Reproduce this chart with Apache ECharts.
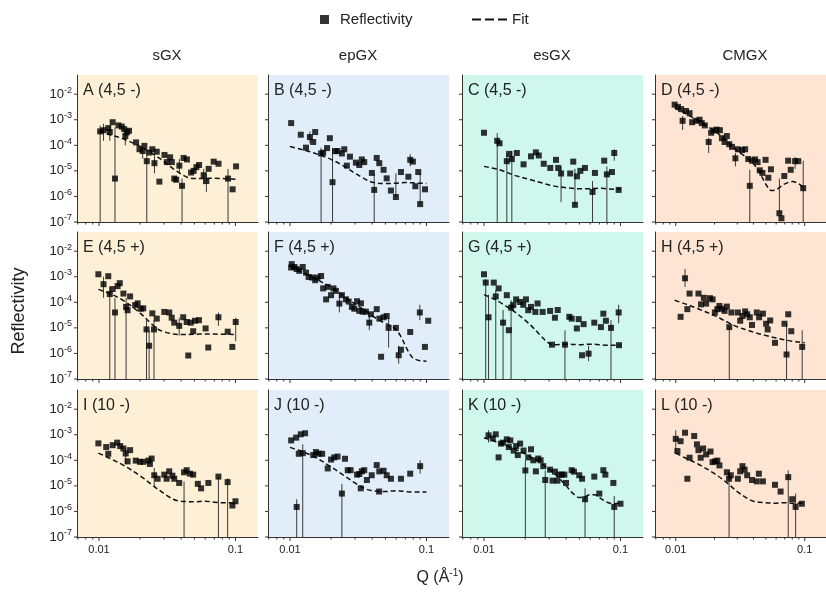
<!DOCTYPE html>
<html>
<head>
<meta charset="utf-8">
<script src="https://cdn.jsdelivr.net/npm/echarts@6/dist/echarts.min.js"></script>
<style>
html,body{margin:0;padding:0;background:#ffffff;}
#chart{width:826px;height:593px;}
</style>
</head>
<body>
<div id="chart"></div>
<script>
// ---- Reflectivity curves: [Q (1/Å), R] ----
const columnTitles = ['sGX', 'epGX', 'esGX', 'CMGX'];
const panelLabels = ['A (4,5 -)', 'B (4,5 -)', 'C (4,5 -)', 'D (4,5 -)',
                     'E (4,5 +)', 'F (4,5 +)', 'G (4,5 +)', 'H (4,5 +)',
                     'I (10 -)', 'J (10 -)', 'K (10 -)', 'L (10 -)'];
const xTickLabels = ['0.01', '0.1'];

const refA = [[0.0102,3.5e-4],[0.0108,3.9e-4],[0.0117,4.7e-4],[0.0120,3.3e-4],[0.0126,8e-4],[0.0131,5e-6],[0.0139,6e-4],[0.0147,5.4e-4],[0.0153,4.3e-4],[0.0156,2.3e-4],[0.0160,3.2e-4],[0.0166,3.7e-4],[0.0187,1.3e-4],[0.0198,7e-5],[0.0209,6e-5],[0.0215,9.5e-5],[0.0224,2.4e-5],[0.0234,5.2e-5],[0.0246,7e-5],[0.0255,2e-5],[0.0265,5.6e-5],[0.0277,3.8e-6],[0.0302,4.2e-5],[0.0314,2.2e-5],[0.0332,3.4e-5],[0.0342,2.2e-5],[0.0356,5e-6],[0.0368,4.5e-6],[0.0388,1.6e-5],[0.0406,2.6e-6],[0.0417,3.2e-5],[0.0441,2.8e-5],[0.0473,8.6e-6],[0.0494,1e-5],[0.0517,1.4e-5],[0.0541,1.7e-5],[0.0585,6.8e-6],[0.0612,4e-6],[0.0636,1.2e-5],[0.0692,2.3e-5],[0.0751,1.9e-5],[0.0882,5e-6],[0.0953,1.9e-6],[0.101,1.5e-5]];
const errA = [[0.0102,0,6e-4],[0.0131,0,5e-4],[0.0224,0,6e-5],[0.0406,0,5e-6],[0.0882,0,1.2e-5],[0.0108,1.5e-4,7e-4],[0.0120,1.5e-4,6e-4],[0.0156,1e-4,3.5e-4],[0.0209,3e-5,9e-5],[0.0255,8e-6,4e-5],[0.0388,8e-6,3e-5],[0.0585,3e-6,1.2e-5],[0.0612,1.5e-6,8e-6]];
const fitA = [[0.0100,3.5e-4],[0.012,2.6e-4],[0.015,1.8e-4],[0.02,9e-5],[0.025,4.5e-5],[0.03,2.3e-5],[0.035,1.2e-5],[0.04,7.5e-6],[0.045,5.5e-6],[0.05,5e-6],[0.06,5e-6],[0.07,5.2e-6],[0.08,5e-6],[0.09,4.8e-6],[0.1,4.7e-6]];

const refB = [[0.0102,7.4e-4],[0.0120,2.6e-4],[0.0131,8.1e-5],[0.0140,2.1e-4],[0.0148,1.35e-4],[0.0153,3.3e-4],[0.0169,4.8e-5],[0.0175,5.1e-5],[0.0187,7.8e-5],[0.0196,1.9e-4],[0.0205,3.6e-6],[0.0214,5.9e-5],[0.0223,6e-5],[0.0240,4.8e-5],[0.0250,7e-5],[0.0261,1.6e-5],[0.0275,3.6e-5],[0.0304,2.1e-5],[0.0322,1.7e-5],[0.0336,2.8e-5],[0.0350,2.2e-5],[0.0398,8.3e-6],[0.0414,1.8e-6],[0.0432,3.2e-5],[0.0451,2e-5],[0.0485,1.1e-5],[0.0511,5.1e-6],[0.0549,1.7e-6],[0.0597,9.5e-7],[0.0650,9e-6],[0.0737,5.9e-6],[0.0760,2.7e-5],[0.0795,2.3e-5],[0.0829,2.5e-6],[0.0870,9e-6],[0.0899,5e-7],[0.0975,1.9e-6]];
const errB = [[0.0169,0,8e-5],[0.0205,0,8e-5],[0.0414,0,8e-6],[0.0597,9.5e-7,8e-6],[0.0899,5e-7,8e-6],[0.0140,1.2e-4,3.5e-4],[0.0760,1.5e-5,4.5e-5]];
const fitB = [[0.0100,9e-5],[0.012,7e-5],[0.015,5e-5],[0.02,2.8e-5],[0.025,1.5e-5],[0.03,8e-6],[0.035,5e-6],[0.04,3.6e-6],[0.05,3.2e-6],[0.06,3.3e-6],[0.07,3.5e-6],[0.08,3.4e-6],[0.09,3.3e-6],[0.1,3.2e-6]];

const refC = [[0.0100,3.1e-4],[0.0125,1.5e-4],[0.0130,1.2e-4],[0.0147,2.4e-5],[0.0153,4.6e-5],[0.0160,2.9e-5],[0.0174,5e-5],[0.0195,1.8e-5],[0.0221,3.7e-5],[0.0240,5.3e-5],[0.0252,4e-5],[0.0274,1.9e-5],[0.0306,1.3e-5],[0.0337,2.7e-5],[0.0350,1.3e-5],[0.0367,7.9e-6],[0.0428,7.9e-6],[0.0451,2.3e-5],[0.0464,4.7e-7],[0.0480,6.1e-6],[0.0508,1e-5],[0.0549,1.3e-5],[0.0624,1.5e-6],[0.0650,8.3e-6],[0.0760,2.5e-5],[0.0795,7.3e-6],[0.0866,9e-6],[0.0900,5e-5],[0.0970,1.8e-6]];
const errC = [[0.0125,0,3e-4],[0.0147,0,5e-5],[0.0160,0,6e-5],[0.0367,6e-7,1.5e-5],[0.0464,4.7e-7,1.2e-5],[0.0624,0,4e-6],[0.0795,0,1.5e-5],[0.0900,2.5e-5,7e-5]];
const fitC = [[0.0100,1.5e-5],[0.013,1.1e-5],[0.017,6.5e-6],[0.022,4.5e-6],[0.027,3.3e-6],[0.032,2.6e-6],[0.04,2.2e-6],[0.05,2e-6],[0.06,2e-6],[0.07,2.1e-6],[0.08,2e-6],[0.09,1.9e-6],[0.1,1.9e-6]];

const refD = [[0.0098,3.9e-3],[0.0104,3.2e-3],[0.0110,2.6e-3],[0.0113,9.1e-4],[0.0120,2.2e-3],[0.0128,1.8e-3],[0.0134,8e-4],[0.0144,9.1e-4],[0.0153,1e-3],[0.0159,7.4e-4],[0.0168,6e-4],[0.0180,1.35e-4],[0.0188,3.1e-4],[0.0196,3.8e-4],[0.0207,4.1e-4],[0.0220,3.9e-4],[0.0228,1.9e-4],[0.0239,1.35e-4],[0.0249,2.3e-4],[0.0260,1.1e-4],[0.0273,8.7e-5],[0.0290,3.1e-5],[0.0303,7e-5],[0.0326,6.5e-5],[0.0345,7e-5],[0.0365,2.9e-5],[0.0375,2.6e-6],[0.0390,2.5e-5],[0.0412,2.8e-5],[0.0431,2.2e-5],[0.0448,1.05e-5],[0.0470,8.3e-6],[0.0497,2.7e-5],[0.0522,5.4e-6],[0.0547,1.15e-5],[0.0636,2.2e-7],[0.0660,1.4e-7],[0.0694,6.3e-6],[0.0744,2.5e-5],[0.0779,1.1e-5],[0.0842,2.4e-5],[0.0891,2.4e-5],[0.0973,2.1e-6]];
const errD = [[0.0113,4e-4,1.4e-3],[0.0180,5e-5,2e-4],[0.0290,1.5e-5,5e-5],[0.0375,0,1.1e-5],[0.0636,2.2e-7,5e-6],[0.0973,0,2.5e-5],[0.0842,1.2e-5,3.5e-5]];
const fitD = [[0.0098,2.9e-3],[0.012,1.7e-3],[0.015,9e-4],[0.02,3.6e-4],[0.025,1.5e-4],[0.03,6e-5],[0.035,3.5e-5],[0.04,1.9e-5],[0.045,8e-6],[0.05,3e-6],[0.055,1.7e-6],[0.06,1.8e-6],[0.065,2.4e-6],[0.07,3.1e-6],[0.08,3.8e-6],[0.09,3.1e-6],[0.1,2e-6]];

const refE = [[0.0099,1.25e-3],[0.0108,5.1e-4],[0.0117,1.05e-3],[0.0120,2.1e-4],[0.0126,3.3e-4],[0.0131,4e-5],[0.0137,4.3e-4],[0.0142,5.6e-4],[0.0151,2.2e-4],[0.0158,6.6e-5],[0.0162,4.9e-5],[0.0169,1.7e-4],[0.0184,7.8e-5],[0.0192,9.1e-5],[0.0202,5.6e-5],[0.0211,5.8e-5],[0.0223,8.7e-6],[0.0233,2e-6],[0.0246,3.7e-5],[0.0253,8.7e-6],[0.0265,2.3e-5],[0.0301,4.2e-5],[0.0327,4e-5],[0.0341,2.5e-5],[0.0356,1.6e-5],[0.0387,1.2e-5],[0.0414,2.6e-5],[0.0439,1.7e-5],[0.0451,8.3e-7],[0.0470,1.6e-5],[0.0490,7.4e-6],[0.0505,1.9e-5],[0.0540,2e-5],[0.0604,9.5e-6],[0.0632,1.7e-6],[0.0750,2.6e-5],[0.0877,7.1e-6],[0.0948,1.8e-6],[0.1004,1.7e-5]];
const errE = [[0.0120,0,4e-4],[0.0131,0,1.5e-4],[0.0158,0,1.5e-4],[0.0223,0,2e-5],[0.0233,0,8e-6],[0.0253,0,2e-5],[0.0108,1.5e-4,1e-3],[0.0387,5e-6,2.5e-5],[0.0750,1.2e-5,4e-5],[0.1004,3e-6,2.5e-5]];
const fitE = [[0.0099,3.2e-4],[0.012,2.2e-4],[0.015,1.2e-4],[0.018,6e-5],[0.021,3e-5],[0.024,1.5e-5],[0.027,9e-6],[0.03,7e-6],[0.035,5.8e-6],[0.04,5.5e-6],[0.05,5.6e-6],[0.06,5.8e-6],[0.07,5.7e-6],[0.08,5.6e-6],[0.09,5.6e-6],[0.1,5.5e-6]];

const refF = [[0.0102,2.3e-3],[0.0103,3.1e-3],[0.0108,2.4e-3],[0.0112,2e-3],[0.0117,1.7e-3],[0.0124,2.4e-3],[0.0131,1.45e-3],[0.0137,9.8e-4],[0.0145,9.3e-4],[0.0153,7.3e-4],[0.0159,9.3e-4],[0.0169,1.07e-3],[0.0175,3.5e-4],[0.0184,1.3e-4],[0.0189,4e-4],[0.0200,1.9e-4],[0.0208,3.5e-4],[0.0217,2.8e-4],[0.0230,8.9e-5],[0.0240,1.9e-4],[0.0257,1.3e-4],[0.0269,1.07e-4],[0.0284,6.6e-5],[0.0296,5.6e-5],[0.0310,1.1e-4],[0.0322,4.6e-5],[0.0331,9.1e-5],[0.0341,4.3e-5],[0.0360,4.3e-5],[0.0381,1.6e-5],[0.0392,3.4e-5],[0.0432,5.4e-5],[0.0452,2.3e-5],[0.0465,7.4e-7],[0.0485,2.6e-5],[0.0511,2.9e-5],[0.0528,1e-5],[0.0597,1e-5],[0.0626,8.5e-7],[0.0650,1.4e-6],[0.0760,6.9e-6],[0.0894,4e-5],[0.0974,1.8e-6],[0.103,1.9e-5]];
const errF = [[0.0230,4e-5,2e-4],[0.0528,1.7e-6,2.5e-5],[0.0894,2e-5,8e-5],[0.0626,4e-7,2e-6],[0.0381,8e-6,3e-5]];
const fitF = [[0.0100,2.6e-3],[0.012,1.6e-3],[0.015,9e-4],[0.02,3.8e-4],[0.025,1.7e-4],[0.03,8.5e-5],[0.035,5e-5],[0.04,3e-5],[0.045,2e-5],[0.05,1.5e-5],[0.055,1.2e-5],[0.06,8.5e-6],[0.065,4.5e-6],[0.07,2e-6],[0.075,1e-6],[0.08,6.5e-7],[0.09,5.2e-7],[0.1,5e-7]];

const refG = [[0.0100,1.25e-3],[0.0103,5.9e-4],[0.0108,2.6e-5],[0.0118,5.9e-4],[0.0122,1.7e-4],[0.0128,3.5e-4],[0.0138,1.6e-5],[0.0147,1.9e-4],[0.0152,8.1e-6],[0.0158,6.2e-5],[0.0164,7.8e-5],[0.0172,1.3e-4],[0.0184,1.03e-4],[0.0194,8e-5],[0.0203,1.3e-4],[0.0211,4.9e-5],[0.0221,6.6e-5],[0.0238,4.2e-5],[0.0247,9e-5],[0.0269,4.2e-5],[0.0305,4.6e-5],[0.0315,2.2e-6],[0.0331,2.5e-5],[0.0347,5e-5],[0.0392,2.2e-6],[0.0422,2.7e-5],[0.0439,2.3e-5],[0.0479,9.5e-6],[0.0494,2.2e-5],[0.0523,8.5e-7],[0.0537,1.4e-5],[0.0584,9.8e-7],[0.0643,1.6e-5],[0.0719,1.07e-5],[0.0749,3.6e-5],[0.0782,1.9e-5],[0.0852,1e-5],[0.0970,4e-5],[0.0975,2.1e-6]];
const errG = [[0.0103,0,8e-4],[0.0108,0,2e-4],[0.0122,0,3e-4],[0.0138,0,5e-5],[0.0158,0,1.2e-4],[0.0392,0,8e-6],[0.0584,5e-7,2e-6],[0.0852,0,2e-5],[0.0970,1.5e-5,8e-5]];
const fitG = [[0.0100,2e-4],[0.012,1.3e-4],[0.014,8e-5],[0.017,4e-5],[0.02,2e-5],[0.023,1e-5],[0.026,5e-6],[0.029,2.8e-6],[0.032,2.2e-6],[0.04,2.3e-6],[0.05,2.2e-6],[0.06,2.3e-6],[0.07,2.2e-6],[0.08,2.1e-6],[0.09,2.1e-6],[0.1,2.1e-6]];

const refH = [[0.0109,2.7e-5],[0.0118,8.7e-4],[0.0123,5.4e-5],[0.0128,2.2e-4],[0.0150,2.2e-4],[0.0157,8.3e-5],[0.0165,1.5e-4],[0.0172,8.9e-5],[0.0184,1.45e-4],[0.0193,1.3e-4],[0.0201,4e-5],[0.0210,5.4e-5],[0.0218,7.2e-5],[0.0228,5.6e-5],[0.0239,4.6e-5],[0.0249,6.8e-5],[0.0260,1.07e-5],[0.0270,4e-5],[0.0303,4e-5],[0.0316,1.9e-5],[0.0329,2.9e-5],[0.0345,4.4e-5],[0.0358,3.4e-5],[0.0375,2.6e-5],[0.0390,1.3e-5],[0.0425,4e-5],[0.0443,2.6e-5],[0.0474,3.6e-5],[0.0502,1.45e-5],[0.0516,8.7e-6],[0.0540,1.95e-5],[0.0588,2.6e-6],[0.0697,1.45e-5],[0.0723,9.1e-7],[0.0745,3.4e-5],[0.0786,7.4e-6],[0.0956,1.8e-6]];
const errH = [[0.0118,4e-4,2e-3],[0.0260,0,1.2e-5],[0.0723,0,1.5e-5],[0.0956,0,8e-6]];
const fitH = [[0.0098,1.2e-4],[0.012,8.5e-5],[0.015,5.5e-5],[0.02,3e-5],[0.025,1.7e-5],[0.03,1.1e-5],[0.035,8.5e-6],[0.04,6.8e-6],[0.05,5e-6],[0.06,4e-6],[0.07,3.4e-6],[0.08,3e-6],[0.09,2.8e-6],[0.1,2.6e-6]];

const refI = [[0.0099,4.6e-4],[0.0113,3.3e-4],[0.0117,1.8e-4],[0.0126,3.9e-4],[0.0136,4.9e-4],[0.0143,3.6e-4],[0.0151,2.9e-4],[0.0157,1.85e-4],[0.0162,9.1e-5],[0.0169,2.5e-4],[0.0186,9.7e-5],[0.0200,8.7e-5],[0.0211,8.7e-5],[0.0230,9.7e-5],[0.0236,7.2e-5],[0.0243,1.17e-4],[0.0254,2.6e-5],[0.0269,1.9e-5],[0.0301,2.75e-5],[0.0313,1.9e-5],[0.0327,3.7e-5],[0.0345,2.5e-5],[0.0356,1.9e-5],[0.0387,1.3e-5],[0.0420,3.4e-5],[0.0439,4.1e-5],[0.0464,3e-5],[0.0490,2.75e-5],[0.0530,1.2e-5],[0.0560,8e-6],[0.0633,1.3e-5],[0.0750,2.3e-5],[0.0876,1.4e-5],[0.0950,1.7e-6],[0.1000,2.5e-6]];
const errI = [[0.0157,7e-5,3e-4],[0.0254,1e-5,5e-5],[0.0420,0,1.5e-5],[0.0750,0,2.3e-5],[0.0876,0,2e-5]];
const fitI = [[0.0099,1.9e-4],[0.012,1.2e-4],[0.015,6.5e-5],[0.02,2.5e-5],[0.025,1e-5],[0.03,5e-6],[0.035,3e-6],[0.04,2.5e-6],[0.05,2.4e-6],[0.06,2.5e-6],[0.07,2.3e-6],[0.08,2.2e-6],[0.09,2.2e-6],[0.1,2.1e-6]];

const refJ = [[0.0102,6e-4],[0.0111,7.7e-4],[0.0112,1.5e-6],[0.0116,1.8e-4],[0.0120,1.04e-3],[0.0124,1.9e-4],[0.0129,1.14e-3],[0.0148,1.6e-4],[0.0155,2.1e-4],[0.0162,1.8e-4],[0.0172,1.8e-4],[0.0189,4.8e-5],[0.0200,1.07e-4],[0.0211,1.3e-4],[0.0223,1.4e-4],[0.0240,5e-6],[0.0253,1.15e-4],[0.0265,4.1e-5],[0.0278,4.1e-5],[0.0310,2.75e-5],[0.0322,2.9e-5],[0.0330,8e-6],[0.0336,3.7e-5],[0.0350,4.1e-5],[0.0366,1.7e-5],[0.0397,2.6e-5],[0.0432,6.5e-5],[0.0450,6e-6],[0.0451,3.7e-5],[0.0485,3.9e-5],[0.0511,2.6e-5],[0.0549,1.9e-5],[0.0650,1.9e-5],[0.0760,3e-5],[0.0899,5.9e-5]];
const errJ = [[0.0124,0,4.2e-4],[0.0112,0,3e-6],[0.0240,0,1.2e-5],[0.0899,3e-5,1e-4]];
const fitJ = [[0.0100,3.2e-4],[0.012,2.3e-4],[0.015,1.4e-4],[0.02,5.5e-5],[0.025,2.5e-5],[0.03,1.3e-5],[0.035,8e-6],[0.04,6.5e-6],[0.05,6e-6],[0.06,6.5e-6],[0.07,6e-6],[0.08,5.7e-6],[0.09,5.8e-6],[0.1,5.8e-6]];

const refK = [[0.0108,9.5e-4],[0.0116,7.2e-4],[0.0122,1.04e-3],[0.0128,1.3e-4],[0.0133,4.5e-4],[0.0138,4.9e-4],[0.0147,6.6e-4],[0.0152,3.3e-4],[0.0156,6e-4],[0.0165,2.4e-4],[0.0172,3.6e-4],[0.0177,1.6e-4],[0.0184,4.5e-4],[0.0195,2.4e-4],[0.0201,4e-5],[0.0211,1.3e-4],[0.0221,2.7e-4],[0.0230,1e-4],[0.0240,3.7e-5],[0.0250,1.17e-4],[0.0260,1e-4],[0.0272,5.9e-5],[0.0281,1.7e-5],[0.0305,4.3e-5],[0.0318,1.6e-5],[0.0331,3.6e-5],[0.0345,1.6e-5],[0.0356,2.75e-5],[0.0372,2.75e-5],[0.0388,2.75e-5],[0.0399,1.3e-5],[0.0439,4.1e-5],[0.0456,3.6e-5],[0.0499,2.6e-5],[0.0523,1.9e-5],[0.0550,3e-6],[0.0643,2.3e-5],[0.0700,5e-6],[0.0749,4.1e-5],[0.0775,2.75e-5],[0.0887,1.3e-5],[0.0900,1.5e-6],[0.1000,2e-6]];
const errK = [[0.0108,5e-4,1.5e-3],[0.0201,0,1e-4],[0.0281,0,4e-5],[0.0550,0,8e-6],[0.0900,0,4e-6]];
const fitK = [[0.0100,7.6e-4],[0.012,5.5e-4],[0.015,3.5e-4],[0.02,1.8e-4],[0.025,9e-5],[0.03,4.5e-5],[0.035,2.2e-5],[0.04,1e-5],[0.045,5e-6],[0.05,3.5e-6],[0.055,3.8e-6],[0.06,4.5e-6],[0.065,4.5e-6],[0.07,3.5e-6],[0.08,2.3e-6],[0.09,2e-6],[0.1,2.1e-6]];

const refL = [[0.0100,6.9e-4],[0.0103,2.3e-4],[0.0109,5.6e-4],[0.0118,1.2e-3],[0.0123,1.9e-5],[0.0128,1.26e-4],[0.0139,8.9e-4],[0.0146,4.2e-4],[0.0150,2.5e-4],[0.0156,1.26e-4],[0.0163,2.9e-4],[0.0172,1.7e-4],[0.0186,2.2e-4],[0.0193,8.5e-5],[0.0202,9.1e-5],[0.0210,9.7e-5],[0.0218,6.3e-5],[0.0249,3.4e-5],[0.0259,1.9e-5],[0.0267,2.6e-5],[0.0303,1.9e-5],[0.0316,3.7e-5],[0.0329,5.9e-5],[0.0342,4.3e-5],[0.0358,2.6e-5],[0.0390,1.7e-5],[0.0425,1.5e-5],[0.0441,3e-5],[0.0474,1.5e-5],[0.0588,1.1e-5],[0.0650,6e-6],[0.0745,2.2e-5],[0.0800,3e-6],[0.0850,1.5e-6],[0.0950,2e-6]];
const errL = [[0.0100,2e-4,1.5e-3],[0.0259,0,4e-5],[0.0745,0,4e-5],[0.0850,0,5e-6]];
const fitL = [[0.0100,1.9e-4],[0.012,1.2e-4],[0.015,7e-5],[0.02,3e-5],[0.025,1.3e-5],[0.03,6e-6],[0.035,3.5e-6],[0.04,2.5e-6],[0.05,2.2e-6],[0.06,2.1e-6],[0.07,2.2e-6],[0.08,2.1e-6],[0.09,2.1e-6],[0.1,2.1e-6]];

const refSets = [refA, refB, refC, refD, refE, refF, refG, refH, refI, refJ, refK, refL];
const errSets = [errA, errB, errC, errD, errE, errF, errG, errH, errI, errJ, errK, errL];
const fitSets = [fitA, fitB, fitC, fitD, fitE, fitF, fitG, fitH, fitI, fitJ, fitK, fitL];

// minor/major tick values on the log axes
const xTickValues = [0.007, 0.008, 0.009, 0.01, 0.02, 0.03, 0.04, 0.05, 0.06, 0.07, 0.08, 0.09, 0.1];
const yTickValues = [1e-7, 1e-6, 1e-5, 1e-4, 1e-3, 1e-2];

// ---- layout ----
const FONT = '"Liberation Sans", Arial, sans-serif';
const colLeft = [77, 268, 462, 655];
const rowTop = [75, 232, 390];
const panelW = 181, panelH = 147;
const X_MIN = Math.pow(10, -2.161), X_MAX = Math.pow(10, -0.835);
const Y_MIN = 1e-7, Y_MAX = Math.pow(10, -1.25);
const panelBg = ['#fdf0d6', '#e1eef9', '#cff7ec', '#fde4d3'];
const INK = '#222';
// three short dashes, used as the legend key of the fitted curves
const DASH_ICON = 'path://M0,0H9V2H0Z M13,0H22V2H13Z M26,0H35V2H26Z';

function isDecade(v) {
  const l = Math.log10(v);
  return Math.abs(l - Math.round(l)) < 1e-6;
}

function errorBarItem(params, api) {
  const q = api.value(0);
  const lo = Math.max(api.value(1), Y_MIN);
  const hi = api.value(2);
  const p1 = api.coord([q, lo]);
  const p2 = api.coord([q, hi]);
  return {
    type: 'line',
    shape: { x1: p1[0], y1: p1[1], x2: p2[0], y2: p2[1] },
    style: { stroke: '#3a3a3a', lineWidth: 1 }
  };
}

function tickItem(params, api) {
  const children = [];
  xTickValues.forEach(function (t) {
    const p = api.coord([t, Y_MIN]);
    const len = isDecade(t) ? 4 : 2.5;
    children.push({ type: 'line', shape: { x1: p[0], y1: p[1], x2: p[0], y2: p[1] + len },
      style: { stroke: '#333', lineWidth: 1 } });
  });
  yTickValues.forEach(function (t) {
    const p = api.coord([X_MIN, t]);
    children.push({ type: 'line', shape: { x1: p[0], y1: p[1], x2: p[0] - 3, y2: p[1] },
      style: { stroke: '#333', lineWidth: 1 } });
  });
  return { type: 'group', children: children };
}

const grids = [], xAxes = [], yAxes = [], series = [], graphics = [];

for (let i = 0; i < 12; i++) {
  const r = Math.floor(i / 4), c = i % 4;
  grids.push({
    left: colLeft[c], top: rowTop[r], width: panelW, height: panelH,
    show: true, backgroundColor: panelBg[c], borderWidth: 0
  });
  xAxes.push({
    type: 'log', logBase: 10, gridIndex: i, min: X_MIN, max: X_MAX,
    axisLine: { show: true, onZero: false, lineStyle: { color: '#333', width: 1 } },
    axisTick: { show: false }, splitLine: { show: false }, minorTick: { show: false },
    axisLabel: {
      show: r === 2, showMinLabel: false, showMaxLabel: false, margin: 7,
      fontFamily: FONT, fontSize: 11, color: INK,
      formatter: function (v) {
        if (!isDecade(v)) return '';
        return Math.round(Math.log10(v)) === -2 ? xTickLabels[0] : xTickLabels[1];
      }
    }
  });
  yAxes.push({
    type: 'log', logBase: 10, gridIndex: i, min: Y_MIN, max: Y_MAX,
    axisLine: { show: true, onZero: false, lineStyle: { color: '#333', width: 1 } },
    axisTick: { show: false }, splitLine: { show: false }, minorTick: { show: false },
    axisLabel: {
      show: c === 0, showMaxLabel: false, margin: 5,
      fontFamily: FONT, fontSize: 13, color: INK,
      formatter: function (v) {
        if (!isDecade(v)) return '';
        return '{b|10}{s|' + Math.round(Math.log10(v)) + '}';
      },
      rich: {
        b: { fontFamily: FONT, fontSize: 13, color: INK, lineHeight: 17 },
        s: { fontFamily: FONT, fontSize: 9, color: INK, lineHeight: 17, verticalAlign: 'top', padding: [0, 0, 7, 0] }
      }
    }
  });
  series.push({
    type: 'custom', name: 'errorbars', xAxisIndex: i, yAxisIndex: i,
    data: errSets[i], encode: { x: 0, y: 2 }, renderItem: errorBarItem,
    silent: true, z: 2
  });
  series.push({
    type: 'line', name: 'Fit', xAxisIndex: i, yAxisIndex: i,
    data: fitSets[i], smooth: 0.35, symbol: 'none', showSymbol: false,
    itemStyle: { color: '#111' },
    lineStyle: { color: '#111', width: 1.5, type: [5, 3] }, silent: true, z: 3
  });
  series.push({
    type: 'scatter', name: 'Reflectivity', xAxisIndex: i, yAxisIndex: i,
    data: refSets[i], symbol: 'rect', symbolSize: 6,
    itemStyle: { color: '#000' }, silent: true, z: 4
  });
  series.push({
    type: 'custom', name: 'ticks', xAxisIndex: i, yAxisIndex: i,
    data: [[0.01, 1e-4]], renderItem: tickItem, clip: false, silent: true, z: 5
  });
  graphics.push({
    type: 'text', left: colLeft[c] + 6, top: rowTop[r] + 8,
    style: { text: panelLabels[i], font: '16px ' + FONT, fill: INK }
  });
}

columnTitles.forEach(function (t, c) {
  graphics.push({
    type: 'text', x: colLeft[c] + 90, y: 56,
    style: { text: t, font: '15px ' + FONT, fill: INK, textAlign: 'center', textVerticalAlign: 'middle' }
  });
});

graphics.push({
  type: 'text', x: 19, y: 311, rotation: Math.PI / 2,
  style: { text: 'Reflectivity', font: '18px ' + FONT, fill: INK, textAlign: 'center', textVerticalAlign: 'middle' }
});
graphics.push({
  type: 'text', x: 440, y: 578,
  style: {
    text: '{t|Q (Å}{s|-1}{t|)}', fill: INK, textAlign: 'center', textVerticalAlign: 'middle',
    rich: {
      t: { font: '16px ' + FONT, fill: INK, lineHeight: 20 },
      s: { font: '10px ' + FONT, fill: INK, lineHeight: 20, verticalAlign: 'top', padding: [0, 0, 8, 0] }
    }
  }
});

const chart = echarts.init(document.getElementById('chart'), null, { renderer: 'canvas' });
chart.setOption({
  animation: false,
  backgroundColor: '#ffffff',
  legend: [
    {
      data: [{ name: 'Reflectivity', icon: 'rect', itemStyle: { color: '#000' } }],
      left: 315, top: 7, itemWidth: 9, itemHeight: 9, selectedMode: false,
      textStyle: { fontFamily: FONT, fontSize: 15, color: INK, padding: [0, 0, 0, 6] }
    },
    {
      data: [{ name: 'Fit', icon: DASH_ICON, itemStyle: { color: '#111' } }],
      left: 467, top: 7, itemWidth: 35, itemHeight: 2, selectedMode: false,
      textStyle: { fontFamily: FONT, fontSize: 15, color: INK }
    }
  ],
  grid: grids,
  xAxis: xAxes,
  yAxis: yAxes,
  series: series,
  graphic: graphics
});
</script>
</body>
</html>
